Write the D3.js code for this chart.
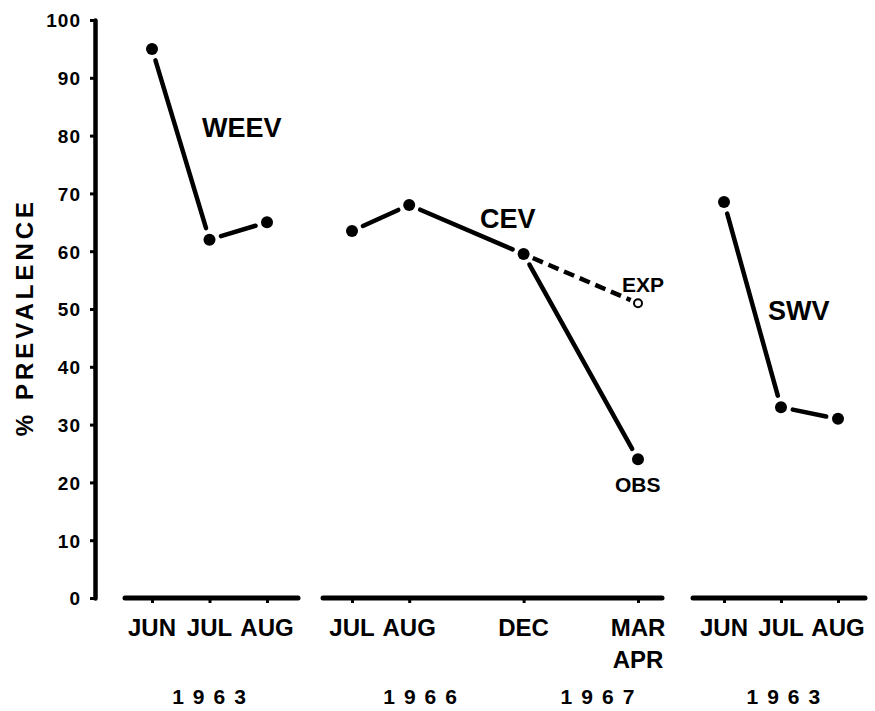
<!DOCTYPE html>
<html>
<head>
<meta charset="utf-8">
<script src="https://cdn.jsdelivr.net/npm/d3@7"></script>
<style>
  html, body { margin: 0; padding: 0; background: #fff; }
  svg text { font-family: "Liberation Sans", Arial, sans-serif; font-weight: bold; fill: #000; }
</style>
</head>
<body>
<svg id="chart" width="875" height="711"></svg>
<script>
// ---------------- DATA ----------------
const yTicks = [0, 10, 20, 30, 40, 50, 60, 70, 80, 90, 100];
const yTickLabels = ["0", "10", "20", "30", "40", "50", "60", "70", "80", "90", "100"];
const yLabel = "% PREVALENCE";

const weevMonths = ["JUN", "JUL", "AUG"];
const weevSlots = [0, 1, 2];
const weevValues = [95, 62, 65];

const cevMonths = ["JUL", "AUG", "DEC", "MAR|APR"];
const cevSlots = [0, 1, 3, 5];
const cevObserved = [63.5, 68, 59.5, 24];
const cevExpected = 51;

const swvMonths = ["JUN", "JUL", "AUG"];
const swvSlots = [0, 1, 2];
const swvValues = [68.5, 33, 31];

const seriesNames = ["WEEV", "CEV", "SWV"];
const curveNames = ["EXP", "OBS"];
const yearLabels = ["1963", "1966", "1967", "1963"];

// ---------------- LAYOUT ----------------
const svg = d3.select("#chart");
const y = d3.scaleLinear().domain([0, 100]).range([598, 20]);

const panels = [
  { months: weevMonths, slots: weevSlots, values: weevValues, range: [152, 267], line: [125, 298] },
  { months: cevMonths, slots: cevSlots, values: cevObserved, range: [352, 638], line: [323, 662] },
  { months: swvMonths, slots: swvSlots, values: swvValues, range: [724, 838], line: [693, 865] }
];
panels.forEach(p => {
  p.x = d3.scaleLinear().domain([0, d3.max(p.slots)]).range(p.range);
});

// Y axis
const yAxis = d3.axisLeft(y).tickValues(yTicks)
  .tickFormat((d, i) => yTickLabels[i]).tickSize(5).tickSizeOuter(0).tickPadding(9);
const gy = svg.append("g").attr("transform", "translate(95,0)").call(yAxis);
gy.select(".domain").attr("stroke", "#000").attr("stroke-width", 4.5).attr("stroke-linecap", "round");
gy.selectAll(".tick line").attr("stroke", "#000").attr("stroke-width", 3);
gy.selectAll(".tick text").style("font-size", "19px").style("letter-spacing", "1px")
  .attr("dy", "0.36em").attr("fill", "#000");

// Y label
svg.append("text")
  .attr("transform", "translate(33,317) rotate(-90)")
  .attr("text-anchor", "middle")
  .style("font-size", "24px").style("letter-spacing", "4px")
  .text(yLabel);

// Bottom axes per panel
panels.forEach(p => {
  svg.append("line")
    .attr("x1", p.line[0]).attr("x2", p.line[1])
    .attr("y1", y(0)).attr("y2", y(0))
    .attr("stroke", "#000").attr("stroke-width", 5).attr("stroke-linecap", "round");
  const ax = d3.axisBottom(p.x).tickValues(p.slots).tickFormat("").tickSize(5).tickSizeOuter(0);
  const g = svg.append("g").attr("transform", `translate(0,${y(0)})`).call(ax);
  g.select(".domain").remove();
  g.selectAll(".tick line").attr("stroke", "#000").attr("stroke-width", 3);
  p.months.forEach((m, i) => {
    const parts = m.split("|");
    parts.forEach((t, k) => {
      svg.append("text")
        .attr("x", p.x(p.slots[i])).attr("y", 636 + k * 32)
        .attr("text-anchor", "middle")
        .style("font-size", "24px")
        .text(t);
    });
  });
});

// Year labels
const yearX = [panels[0].x(1), panels[1].x(1.2), panels[1].x(4.3), panels[2].x(1.05)];
yearLabels.forEach((t, i) => {
  svg.append("text")
    .attr("x", yearX[i] + 4).attr("y", 704)
    .attr("text-anchor", "middle")
    .style("font-size", "21px").style("letter-spacing", "9px")
    .text(t);
});

// Gapped segment helper
function gapSeg(a, b, g0, g1) {
  const dx = b[0] - a[0], dy = b[1] - a[1];
  const L = Math.hypot(dx, dy);
  const ux = dx / L, uy = dy / L;
  return [[a[0] + ux * g0, a[1] + uy * g0], [b[0] - ux * g1, b[1] - uy * g1]];
}

const lineGen = d3.line();

panels.forEach(p => {
  const pts = p.values.map((v, i) => [p.x(p.slots[i]), y(v)]);
  for (let i = 0; i < pts.length - 1; i++) {
    const s = gapSeg(pts[i], pts[i + 1], 12, 12);
    svg.append("path").attr("d", lineGen(s))
      .attr("stroke", "#000").attr("stroke-width", 4.5).attr("fill", "none")
      .attr("stroke-linecap", "round");
  }
  svg.selectAll(null).data(pts).enter().append("circle")
    .attr("cx", d => d[0]).attr("cy", d => d[1]).attr("r", 6).attr("fill", "#000");
});

// CEV expected dashed line
const cev = panels[1];
const decPt = [cev.x(cev.slots[2]), y(cevObserved[2])];
const expPt = [cev.x(cev.slots[3]), y(cevExpected)];
const ds = gapSeg(decPt, expPt, 10, 8);
svg.append("path").attr("d", lineGen(ds))
  .attr("stroke", "#000").attr("stroke-width", 4.5).attr("fill", "none")
  .attr("stroke-dasharray", "11,6");
svg.append("circle").attr("cx", expPt[0]).attr("cy", expPt[1]).attr("r", 4)
  .attr("fill", "#fff").attr("stroke", "#000").attr("stroke-width", 2);

// Series labels
const seriesLabelPos = [[202, 137], [480, 228], [768, 320]];
seriesNames.forEach((t, i) => {
  svg.append("text").attr("x", seriesLabelPos[i][0]).attr("y", seriesLabelPos[i][1])
    .style("font-size", "27px").text(t);
});
svg.append("text").attr("x", 622).attr("y", 292).style("font-size", "21px").text(curveNames[0]);
svg.append("text").attr("x", 615).attr("y", 492).style("font-size", "21px").text(curveNames[1]);
</script>
</body>
</html>
